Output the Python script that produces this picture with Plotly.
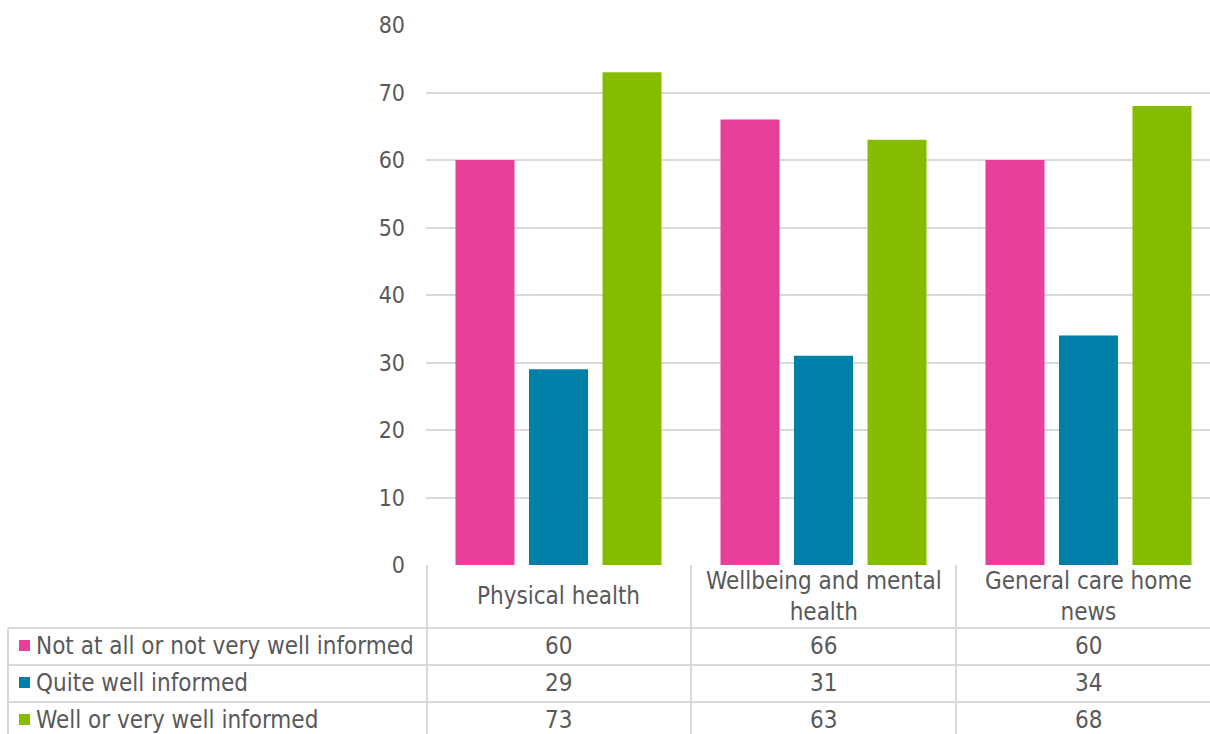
import plotly.graph_objects as go

categories = ["Physical health", "Wellbeing and mental<br>health", "General care home<br>news"]
series_names = ["Not at all or not very well informed", "Quite well informed", "Well or very well informed"]
not_informed = [60, 66, 60]
quite_informed = [29, 31, 34]
well_informed = [73, 63, 68]
y_ticks = [0, 10, 20, 30, 40, 50, 60, 70, 80]

colors = ["#E8409A", "#0080A8", "#86BC00"]
series_values = [not_informed, quite_informed, well_informed]
FONT = "DejaVu Sans Condensed, Liberation Sans Narrow, sans-serif"
TXT = "#595959"
GRID = "#D9D9D9"
FS = 24

W, H = 1210, 734
L, T, B = 426, 25, 169
plot_w = W - L
plot_h = H - T - B
cat_px = 265.0
x_idx = list(range(len(categories)))

fig = go.Figure()
for name, vals, c in zip(series_names, series_values, colors):
    fig.add_trace(go.Bar(x=x_idx, y=vals, name=name, marker=dict(color=c, line_width=0)))

def px_x(X):
    return (X - L) / plot_w

def px_y(Y):
    return (H - B - Y) / plot_h

shapes = []
line = dict(color=GRID, width=2)
# vertical table lines
for X in [L + 1, L + cat_px, L + 2 * cat_px]:
    shapes.append(dict(type="line", xref="paper", yref="paper", x0=px_x(X), x1=px_x(X),
                       y0=0, y1=px_y(H + 5), line=line))
# left border
shapes.append(dict(type="line", xref="paper", yref="paper", x0=px_x(8), x1=px_x(8),
                   y0=px_y(628), y1=px_y(H + 5), line=line))
# horizontal table lines
for Y in [628, 665, 702]:
    shapes.append(dict(type="line", xref="paper", yref="paper", x0=px_x(8), x1=1.02,
                       y0=px_y(Y), y1=px_y(Y), line=line))

annotations = []
for i, cat in enumerate(categories):
    annotations.append(dict(x=i, xref="x", y=px_y(596), yref="paper", text=cat, showarrow=False,
                            xanchor="center", yanchor="middle", font=dict(size=FS, color=TXT, family=FONT)))
row_y = [646, 683, 720]
for r, (name, vals, c) in enumerate(zip(series_names, series_values, colors)):
    Y = row_y[r]
    shapes.append(dict(type="rect", xref="paper", yref="paper", x0=px_x(19), x1=px_x(30),
                       y0=px_y(Y - 6), y1=px_y(Y + 5), fillcolor=c, line_width=0))
    annotations.append(dict(x=px_x(34), xref="paper", y=px_y(Y), yref="paper", text=name, showarrow=False,
                            xanchor="left", yanchor="middle", font=dict(size=FS, color=TXT, family=FONT)))
    for i, v in enumerate(vals):
        annotations.append(dict(x=i, xref="x", y=px_y(Y), yref="paper", text=str(v), showarrow=False,
                                xanchor="center", yanchor="middle", font=dict(size=FS, color=TXT, family=FONT)))

fig.update_layout(
    width=W, height=H,
    margin=dict(l=L, r=0, t=T, b=B),
    paper_bgcolor="white", plot_bgcolor="white",
    barmode="group", bargap=0.168, bargroupgap=0.197,
    showlegend=False,
    shapes=shapes, annotations=annotations,
    font=dict(family=FONT, color=TXT, size=FS),
    xaxis=dict(range=[-0.5, -0.5 + plot_w / cat_px], showticklabels=False, showgrid=False,
               zeroline=False, showline=False, fixedrange=True),
    yaxis=dict(range=[0, 80], tickvals=y_ticks, showgrid=True, gridcolor=GRID, gridwidth=2,
               zeroline=False, showline=False, ticks="", ticklabelstandoff=20,
               tickfont=dict(size=23, color=TXT, family=FONT)),
)

fig.write_html("out.html")
